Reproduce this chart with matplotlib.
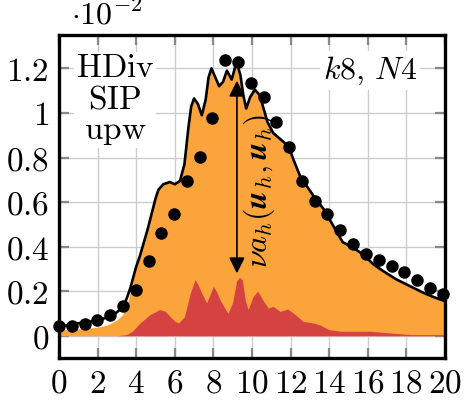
import matplotlib
matplotlib.use("Agg")
import matplotlib.pyplot as plt

# all values in units of 1e-2
line_x = [0, 0.5, 1, 1.5, 2, 2.5, 3, 3.3, 3.5, 3.7, 4.0, 4.2, 4.6, 5.0, 5.15, 5.4,
          5.75, 6.0, 6.27, 6.5, 6.7, 6.85, 7.0, 7.2, 7.4, 7.6, 7.75, 7.9, 8.1, 8.3,
          8.5, 8.7, 8.95, 9.2, 9.4, 9.55, 9.7, 9.9, 10.15, 10.4, 10.6, 10.8, 11.1,
          11.5, 11.9, 12.15, 12.5, 12.85, 13.25, 13.7, 14.1, 14.7, 15.25, 15.75,
          16.3, 16.8, 17.5, 18.2, 18.9, 19.4, 20]
line_y = [0.04, 0.048, 0.056, 0.062, 0.07, 0.082, 0.105, 0.13, 0.165, 0.215, 0.31,
          0.36, 0.48, 0.615, 0.655, 0.68, 0.69, 0.68, 0.695, 0.77, 0.93, 1.03, 1.065,
          1.04, 0.99, 1.06, 1.16, 1.2, 1.16, 1.12, 1.14, 1.19, 1.15, 1.23, 1.17, 1.08,
          1.02, 1.07, 1.105, 1.08, 1.02, 0.96, 0.91, 0.88, 0.85, 0.79, 0.715, 0.67,
          0.62, 0.57, 0.51, 0.42, 0.395, 0.365, 0.32, 0.29, 0.252, 0.222, 0.192,
          0.174, 0.155]
fill_y = [0.025, 0.028, 0.031, 0.034, 0.038, 0.048, 0.07, 0.095, 0.13, 0.2, 0.31,
          0.36, 0.48, 0.615, 0.655, 0.68, 0.69, 0.68, 0.695, 0.77, 0.93, 1.03, 1.065,
          1.04, 0.99, 1.06, 1.16, 1.2, 1.16, 1.12, 1.14, 1.19, 1.15, 1.23, 1.17, 1.08,
          1.02, 1.07, 1.105, 1.08, 1.02, 0.96, 0.91, 0.88, 0.85, 0.79, 0.715, 0.67,
          0.62, 0.57, 0.51, 0.42, 0.395, 0.365, 0.32, 0.29, 0.252, 0.222, 0.192,
          0.174, 0.155]

red_x = [0, 3.0, 3.5, 3.8, 4.2, 4.7, 5.2, 5.5, 5.75, 6.0, 6.2, 6.5, 6.8, 7.05, 7.2,
         7.4, 7.65, 7.85, 8.0, 8.15, 8.35, 8.55, 8.75, 9.0, 9.2, 9.35, 9.5, 9.65,
         9.8, 10.05, 10.3, 10.6, 10.85, 11.1, 11.45, 11.85, 12.25, 12.65, 13.2,
         13.5, 14.0, 14.6, 15.1, 16.1, 17.2, 18.2, 19, 20]
red_y = [0, 0, 0.005, 0.02, 0.057, 0.094, 0.117, 0.11, 0.087, 0.065, 0.057, 0.085,
         0.19, 0.252, 0.23, 0.19, 0.147, 0.19, 0.222, 0.2, 0.16, 0.13, 0.10, 0.15,
         0.245, 0.262, 0.25, 0.16, 0.117, 0.175, 0.2, 0.154, 0.124, 0.132, 0.109,
         0.12, 0.094, 0.064, 0.057, 0.049, 0.027, 0.02, 0.02, 0.02, 0.012, 0.005,
         0.005, 0.005]

dots_x = [0, 0.66, 1.33, 1.99, 2.65, 3.31, 3.98, 4.64, 5.30, 5.96, 6.63, 7.29, 7.95,
          8.61, 9.28, 9.94, 10.60, 11.26, 11.93, 12.59, 13.25, 13.91, 14.58, 15.24,
          15.90, 16.56, 17.23, 17.89, 18.55, 19.21, 19.88]
dots_y = [0.045, 0.045, 0.054, 0.069, 0.093, 0.132, 0.204, 0.336, 0.46, 0.545, 0.693,
          0.803, 0.977, 1.236, 1.228, 1.133, 1.071, 0.960, 0.849, 0.693, 0.604, 0.547,
          0.476, 0.412, 0.367, 0.338, 0.311, 0.285, 0.249, 0.214, 0.187]

xticks = [0, 2, 4, 6, 8, 10, 12, 14, 16, 18, 20]
yticks = [0, 0.2, 0.4, 0.6, 0.8, 1.0, 1.2]
ytick_labels = ["0", "0.2", "0.4", "0.6", "0.8", "1", "1.2"]

ORANGE = "#fba43c"
RED = "#d44242"

plt.rcParams["mathtext.fontset"] = "cm"
plt.rcParams["font.family"] = "serif"
plt.rcParams["font.serif"] = ["DejaVu Serif"]

fig = plt.figure(figsize=(4.7, 4.0), dpi=100)
ax = fig.add_axes([0.1255, 0.105, 0.8213, 0.8075])

ax.fill_between(line_x, fill_y, color=ORANGE, linewidth=0, zorder=2)
ax.fill_between(red_x, red_y, color=RED, linewidth=0, zorder=3)
ax.plot(line_x, line_y, color="black", linewidth=1.9, zorder=4)
ax.plot(dots_x, dots_y, "o", color="black", markersize=8, zorder=6, clip_on=False)

# arrow for nu a_h(u_h, u_h)
ax.annotate("", xy=(9.22, 1.145), xytext=(9.22, 0.28),
            arrowprops=dict(arrowstyle="<|-|>", color="black", lw=1.2,
                            mutation_scale=24, shrinkA=0, shrinkB=0), zorder=7)
ax.text(10.4, 0.65, r"$\nu a_h(\boldsymbol{u}_h, \boldsymbol{u}_h)$", rotation=90,
        ha="center", va="center", fontsize=23, zorder=7)

ax.text(0.145, 0.80, "$\\mathrm{HDiv}$\n$\\mathrm{SIP}$\n$\\mathrm{upw}$",
        transform=ax.transAxes, ha="center", va="center", fontsize=24,
        linespacing=0.95, zorder=5,
        bbox=dict(facecolor="white", edgecolor="none", pad=1))
ax.text(0.805, 0.89, r"$k8,\,N4$", transform=ax.transAxes, ha="center",
        va="center", fontsize=23, zorder=5,
        bbox=dict(facecolor="white", edgecolor="none", pad=2))

ax.set_xlim(0, 20)
ax.set_ylim(-0.1, 1.35)
ax.set_xticks(xticks)
ax.set_xticklabels([f"${t}$" for t in xticks], fontsize=24)
ax.set_yticks(yticks)
ax.set_yticklabels([f"${t}$" for t in ytick_labels], fontsize=24)
ax.tick_params(direction="in", length=7, width=1.6, color="#888888",
               top=True, right=True, pad=7)
ax.grid(True, color="#cccccc", linewidth=1.0, zorder=0)
ax.set_axisbelow(True)
for sp in ax.spines.values():
    sp.set_linewidth(2.4)
    sp.set_zorder(5)

fig.text(0.152, 0.962, r"$\cdot 10^{-2}$", ha="left", va="center", fontsize=23)

fig.savefig("out.png", dpi=100)
